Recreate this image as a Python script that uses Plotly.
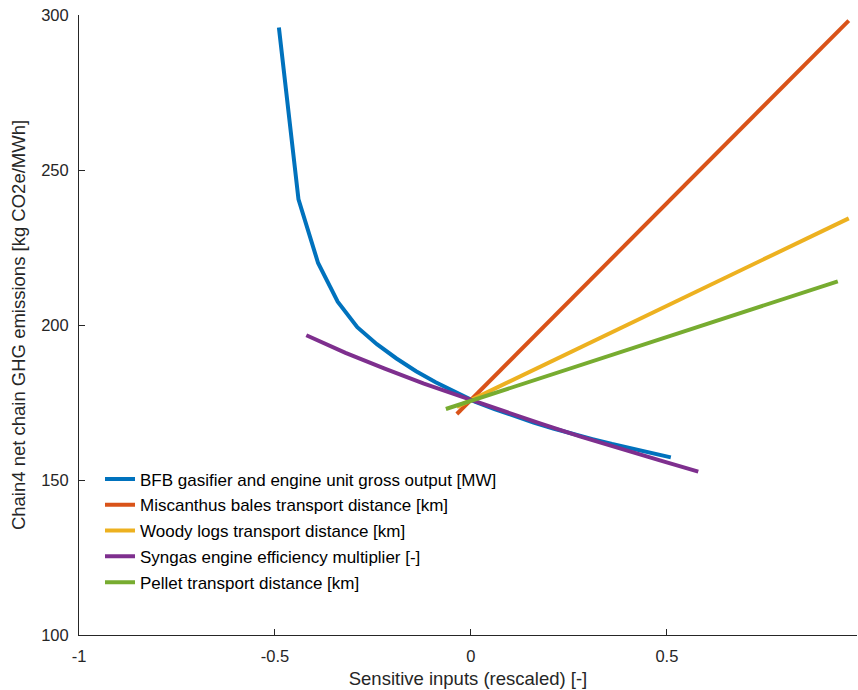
import plotly.graph_objects as go

# ---- data ----
bfb_x = [-0.49, -0.44, -0.39, -0.34, -0.29, -0.24, -0.19, -0.14, -0.09, -0.04, 0.01,
         0.06, 0.11, 0.16, 0.21, 0.26, 0.31, 0.36, 0.41, 0.46, 0.51]
bfb_y = [296.0, 240.5, 220.0, 207.5, 199.3, 193.8, 189.2, 185.1, 181.5, 178.3, 175.3,
         172.9, 170.6, 168.5, 166.6, 164.8, 163.2, 161.6, 160.1, 158.7, 157.3]

misc_x = [-0.036, 0.964]
misc_y = [171.3, 298.2]

woody_x = [-0.036, 0.964]
woody_y = [173.6, 234.4]

syngas_x = [-0.42, -0.32, -0.22, -0.12, -0.02, 0.08, 0.18, 0.28, 0.38, 0.48, 0.58]
syngas_y = [196.7, 191.0, 185.9, 181.1, 176.7, 172.3, 168.1, 164.0, 160.1, 156.4, 152.7]

pellet_x = [-0.064, 0.936]
pellet_y = [172.9, 214.1]

names = [
    "BFB gasifier and engine unit gross output [MW]",
    "Miscanthus bales transport distance [km]",
    "Woody logs transport distance [km]",
    "Syngas engine efficiency multiplier [-]",
    "Pellet transport distance [km]",
]
colors = ["#0072BD", "#D95319", "#EDB120", "#7E2F8E", "#77AC30"]

x_tickvals = [-1, -0.5, 0, 0.5]
x_ticktext = ["-1", "-0.5", "0", "0.5"]
y_tickvals = [100, 150, 200, 250, 300]
y_ticktext = ["100", "150", "200", "250", "300"]

series = [(bfb_x, bfb_y), (misc_x, misc_y), (woody_x, woody_y),
          (syngas_x, syngas_y), (pellet_x, pellet_y)]

fig = go.Figure()
for i, ((xs, ys), name, col) in enumerate(zip(series, names, colors)):
    fig.add_trace(go.Scatter(
        x=xs, y=ys, mode="lines", name=name, legendgroup=f"g{i}",
        line=dict(color=col, width=4),
    ))

FAM = "Liberation Sans, Arial, sans-serif"
tick_font = dict(family=FAM, size=16.5, color="#262626")
title_font = dict(family=FAM, size=18.5, color="#262626")

fig.update_layout(
    width=858, height=690,
    margin=dict(l=79, r=1, t=15, b=55),
    paper_bgcolor="white", plot_bgcolor="white",
    font=tick_font,
    showlegend=True,
    legend=dict(
        x=0.027, y=0.28, xanchor="left", yanchor="top",
        bgcolor="rgba(0,0,0,0)", borderwidth=0,
        font=dict(family=FAM, size=17, color="#000000"),
        tracegroupgap=0.7,
    ),
    xaxis=dict(
        range=[-1, 0.985], showgrid=False, zeroline=False, automargin=False,
        showline=True, linecolor="#262626", linewidth=1,
        ticks="inside", ticklen=6, tickcolor="#262626",
        tickvals=x_tickvals, ticktext=x_ticktext,
        tickfont=tick_font, ticklabelstandoff=6, ticklabeloverflow="allow",
        title=dict(text="Sensitive inputs (rescaled) [-]", font=title_font, standoff=8),
    ),
    yaxis=dict(
        range=[100, 300], showgrid=False, zeroline=False, automargin=False,
        showline=True, linecolor="#262626", linewidth=1,
        ticks="inside", ticklen=6, tickcolor="#262626",
        tickvals=y_tickvals, ticktext=y_ticktext,
        tickfont=tick_font, ticklabelstandoff=6, ticklabeloverflow="allow",
        title=dict(text="Chain4 net chain GHG emissions [kg CO2e/MWh]", font=title_font, standoff=10),
    ),
)

# remove the browser's default 8px body margin so the figure fills the window
fig.write_html(
    "out.html",
    config={"displayModeBar": False},
    post_script="document.body.style.margin='0';",
)
